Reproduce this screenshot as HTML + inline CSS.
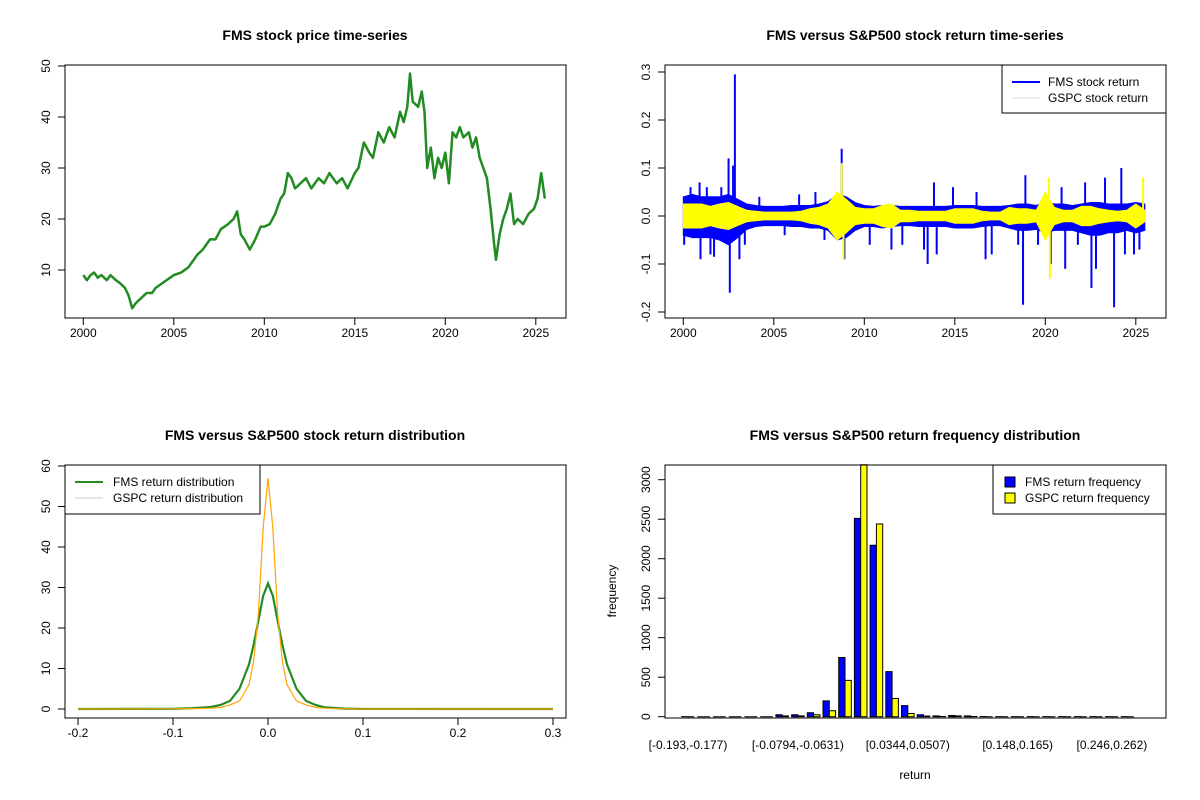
<!DOCTYPE html>
<html><head><meta charset="utf-8"><style>
body{margin:0;background:#fff}
svg{display:block;font-family:"Liberation Sans",Arial,sans-serif}
</style></head><body>
<svg id="c" width="1200" height="800" viewBox="0 0 1200 800" xmlns="http://www.w3.org/2000/svg">
<rect width="1200" height="800" fill="#fff"/>
<text x="315" y="40" text-anchor="middle" font-size="14" font-weight="bold">FMS stock price time-series</text>
<text x="915" y="40" text-anchor="middle" font-size="14" font-weight="bold">FMS versus S&amp;P500 stock return time-series</text>
<text x="315" y="440" text-anchor="middle" font-size="14" font-weight="bold">FMS versus S&amp;P500 stock return distribution</text>
<text x="915" y="440" text-anchor="middle" font-size="14" font-weight="bold">FMS versus S&amp;P500 return frequency distribution</text>
<g id="g1"></g>
<g id="g2"></g>
<g id="g3"></g>
<g id="g4"></g>
</svg>
<script>
// ---- Data ----
const priceYears=[2000,2000.2,2000.4,2000.6,2000.8,2001,2001.3,2001.5,2001.8,2002,2002.3,2002.5,2002.7,2002.9,2003.2,2003.5,2003.8,2004,2004.4,2004.8,2005,2005.4,2005.8,2006,2006.3,2006.6,2007,2007.3,2007.6,2008,2008.3,2008.5,2008.7,2008.9,2009.2,2009.5,2009.8,2010,2010.3,2010.6,2010.9,2011.1,2011.3,2011.5,2011.7,2012,2012.3,2012.6,2013,2013.3,2013.6,2014,2014.3,2014.6,2015,2015.2,2015.5,2015.8,2016,2016.3,2016.6,2016.9,2017.2,2017.5,2017.7,2017.9,2018.05,2018.2,2018.5,2018.7,2018.85,2019,2019.2,2019.4,2019.6,2019.8,2020,2020.2,2020.4,2020.6,2020.8,2021,2021.3,2021.5,2021.7,2021.9,2022.1,2022.3,2022.5,2022.7,2022.8,2023,2023.2,2023.4,2023.6,2023.8,2024,2024.3,2024.6,2024.9,2025.1,2025.3,2025.5];
const priceVals=[9,8,9,9.5,8.5,9,8,9,8,7.5,6.5,5,2.5,3.5,4.5,5.5,5.5,6.5,7.5,8.5,9,9.5,10.5,11.5,13,14,16,16,18,19,20,21.5,17,16,14,16,18.5,18.5,19,21,24,25,29,28,26,27,28,26,28,27,29,27,28,26,29,30,35,33,32,37,35,38,36,41,39,42,48.5,43,42,45,41,30,34,28,32,30,33,27,37,36,38,36,37,34,36,32,30,28,22,15,12,17,20,22,25,19,20,19,21,22,24,29,24];
const retYears=[2000,2000.5,2001,2001.5,2002,2002.5,2003,2003.5,2004,2004.5,2005,2005.5,2006,2006.5,2007,2007.5,2008,2008.5,2009,2009.5,2010,2010.5,2011,2011.5,2012,2012.5,2013,2013.5,2014,2014.5,2015,2015.5,2016,2016.5,2017,2017.5,2018,2018.5,2019,2019.5,2020,2020.5,2021,2021.5,2022,2022.5,2023,2023.5,2024,2024.5,2025,2025.5];
const fmsHi=[0.04,0.045,0.04,0.04,0.04,0.045,0.035,0.025,0.022,0.02,0.02,0.02,0.022,0.022,0.022,0.025,0.03,0.045,0.04,0.028,0.022,0.02,0.022,0.022,0.02,0.02,0.02,0.02,0.02,0.02,0.022,0.022,0.022,0.02,0.02,0.02,0.022,0.025,0.025,0.022,0.03,0.025,0.025,0.022,0.025,0.028,0.028,0.025,0.025,0.025,0.028,0.025];
const fmsLo=[-0.04,-0.045,-0.045,-0.045,-0.05,-0.06,-0.045,-0.028,-0.022,-0.02,-0.02,-0.02,-0.022,-0.022,-0.025,-0.025,-0.03,-0.05,-0.045,-0.03,-0.022,-0.022,-0.025,-0.022,-0.02,-0.02,-0.022,-0.022,-0.022,-0.022,-0.025,-0.025,-0.025,-0.022,-0.02,-0.02,-0.025,-0.03,-0.03,-0.028,-0.035,-0.03,-0.03,-0.03,-0.035,-0.04,-0.04,-0.035,-0.035,-0.03,-0.035,-0.03];
const gspcHi=[0.025,0.025,0.025,0.02,0.025,0.028,0.02,0.012,0.01,0.008,0.008,0.008,0.008,0.01,0.015,0.018,0.025,0.05,0.035,0.018,0.015,0.015,0.022,0.025,0.012,0.012,0.01,0.01,0.01,0.01,0.015,0.015,0.015,0.01,0.008,0.008,0.018,0.015,0.015,0.012,0.05,0.018,0.012,0.012,0.02,0.02,0.015,0.012,0.01,0.012,0.025,0.012];
const gspcLo=gspcHi.map(v=>-v);
const fmsSpikeYears=[2000.05,2000.4,2000.9,2000.95,2001.3,2001.5,2001.7,2002.1,2002.5,2002.57,2002.75,2002.85,2003.1,2003.4,2004.2,2005.6,2006.4,2007.3,2007.8,2008.75,2008.9,2010.3,2011.5,2012.1,2013.3,2013.5,2013.85,2014.0,2014.9,2016.2,2016.7,2017.04,2018.5,2018.77,2018.9,2019.6,2020.3,2020.9,2021.1,2021.8,2022.2,2022.55,2022.8,2023.3,2023.8,2024.2,2024.4,2024.9,2025.2];
const fmsSpikeVals=[-0.06,0.06,0.07,-0.09,0.06,-0.08,-0.085,0.06,0.12,-0.16,0.105,0.295,-0.09,-0.06,0.04,-0.04,0.045,0.05,-0.05,0.14,-0.09,-0.06,-0.07,-0.06,-0.07,-0.1,0.07,-0.08,0.06,0.05,-0.09,-0.08,-0.06,-0.185,0.085,-0.06,-0.1,0.06,-0.11,-0.06,0.07,-0.15,-0.11,0.08,-0.19,0.1,-0.08,-0.08,-0.07];
const gspcSpikeYears=[2008.75,2008.85,2020.2,2020.25,2025.4];
const gspcSpikeVals=[0.11,-0.09,0.08,-0.13,0.08];
const densX=[-0.2,-0.1,-0.08,-0.06,-0.05,-0.04,-0.03,-0.02,-0.015,-0.01,-0.005,0,0.005,0.01,0.015,0.02,0.03,0.04,0.05,0.06,0.08,0.1,0.3];
const densFMS=[0,0.05,0.2,0.5,1,2,5,11,16,22,28,31,28,22,16,11,5,2,1,0.4,0.1,0.02,0];
const densGSPC=[0,0.05,0.1,0.2,0.4,1,2,6,12,24,45,57,45,24,12,6,2,1,0.4,0.2,0.05,0,0];
const binLabels=["[-0.193,-0.177)","[-0.0794,-0.0631)","[0.0344,0.0507)","[0.148,0.165)","[0.246,0.262)"];
const binLabelIdx=[0,7,14,21,27];
const fmsFreq=[1,0,0,0,0,0,25,25,50,200,750,2510,2170,570,140,25,10,15,10,2,1,1,1,1,1,1,1,1,1];
const gspcFreq=[0,0,0,0,0,0,10,10,25,75,460,3250,2440,230,40,8,3,10,3,0,0,0,0,0,0,0,0,0,0];
const yearTicks=[2000,2005,2010,2015,2020,2025];
const priceTicks=[10,20,30,40,50];
const retTicks=[-0.2,-0.1,0,0.1,0.2,0.3];
const densXTicks=[-0.2,-0.1,0,0.1,0.2,0.3];
const densYTicks=[0,10,20,30,40,50,60];
const freqTicks=[0,500,1000,1500,2000,2500,3000];

const NS="http://www.w3.org/2000/svg";
function mk(parent,tag,attrs,txt){const e=document.createElementNS(NS,tag);for(const k in attrs)e.setAttribute(k,attrs[k]);if(txt!==undefined)e.textContent=txt;parent.appendChild(e);return e;}
function box(g,x0,y0,x1,y1){const r=mk(g,'rect',{x:x0,y:y0,width:x1-x0,height:y1-y0,fill:'none',stroke:'#000','stroke-width':1});

}
function xAxis(g,ticks,fx,y,fmt){mk(g,'line',{x1:fx(ticks[0]),x2:fx(ticks[ticks.length-1]),y1:y,y2:y,stroke:'#000'});
ticks.forEach(t=>{mk(g,'line',{x1:fx(t),x2:fx(t),y1:y,y2:y+7,stroke:'#000'});
const tx=mk(g,'text',{x:fx(t),y:y+19,'text-anchor':'middle','font-size':12},fmt(t));

});}
function yAxis(g,ticks,fy,x,fmt){mk(g,'line',{x1:x,x2:x,y1:fy(ticks[0]),y2:fy(ticks[ticks.length-1]),stroke:'#000'});
ticks.forEach(t=>{mk(g,'line',{x1:x,x2:x-7,y1:fy(t),y2:fy(t),stroke:'#000'});
const tx=mk(g,'text',{x:fy(t),y:x-19,'text-anchor':'middle','font-size':12,transform:`translate(0 0)`},fmt(t));
tx.setAttribute('x',x-19);tx.setAttribute('y',fy(t));
tx.setAttribute('transform',`rotate(-90 ${x-19} ${fy(t)})`);
tx.setAttribute('dy','4');

});}
const fmtR=t=>(Math.round(t*10)/10).toFixed(1);

{const g=document.getElementById('g1');const fx=y=>83.3+(y-2000)*18.1, fy=v=>270-(v-10)*5.1;
const p=mk(g,'polyline',{points:priceYears.map((y,i)=>fx(y)+','+fy(priceVals[i])).join(' '),fill:'none',stroke:'#228B22','stroke-width':2.5,'stroke-linejoin':'round'});


box(g,65,65,566,318);xAxis(g,yearTicks,fx,318,t=>t);yAxis(g,priceTicks,fy,65,t=>t);}

{const g=document.getElementById('g2');const fx=y=>683.3+(y-2000)*18.1, fy=r=>216-r*480;
const band=(hi,lo,col,name)=>{const pts=retYears.map((y,i)=>fx(y)+','+fy(hi[i])).concat(retYears.slice().reverse().map((y,j)=>{const i=retYears.length-1-j;return fx(y)+','+fy(lo[i]);}));
const e=mk(g,'polygon',{points:pts.join(' '),fill:col,stroke:col,'stroke-width':1});

};
band(fmsHi,fmsLo,'#0000FF','fms-return-band');
fmsSpikeYears.forEach((y,i)=>{const l=mk(g,'line',{x1:fx(y),x2:fx(y),y1:fy(0),y2:fy(fmsSpikeVals[i]),stroke:'#0000FF','stroke-width':2});

});
band(gspcHi,gspcLo,'#FFFF00','gspc-return-band');
gspcSpikeYears.forEach((y,i)=>{const l=mk(g,'line',{x1:fx(y),x2:fx(y),y1:fy(0),y2:fy(gspcSpikeVals[i]),stroke:'#FFFF00','stroke-width':2});

});
box(g,665,65,1166,318);xAxis(g,yearTicks,fx,318,t=>t);yAxis(g,retTicks,fy,665,fmtR);
const lg=mk(g,'g',{});
mk(lg,'rect',{x:1002,y:65,width:164,height:48,fill:'#fff',stroke:'#000'});
mk(lg,'line',{x1:1012,x2:1040,y1:82,y2:82,stroke:'#0000FF','stroke-width':2});
mk(lg,'text',{x:1048,y:86,'font-size':12},'FMS stock return');
mk(lg,'line',{x1:1012,x2:1040,y1:98,y2:98,stroke:'#ddd','stroke-width':1});
mk(lg,'text',{x:1048,y:102,'font-size':12},'GSPC stock return');}

{const g=document.getElementById('g3');const fx=v=>268+v*950, fy=d=>709-d*4.05;
const a=mk(g,'polyline',{points:densX.map((x,i)=>fx(x)+','+fy(densFMS[i])).join(' '),fill:'none',stroke:'#228B22','stroke-width':2.2});


const b=mk(g,'polyline',{points:densX.map((x,i)=>fx(x)+','+fy(densGSPC[i])).join(' '),fill:'none',stroke:'#FFA500','stroke-width':1.2});


box(g,65,465,566,718);xAxis(g,densXTicks,fx,718,fmtR);yAxis(g,densYTicks,fy,65,t=>t);
const lg=mk(g,'g',{});
mk(lg,'rect',{x:65,y:465,width:195,height:49,fill:'#fff',stroke:'#000'});
mk(lg,'line',{x1:75,x2:103,y1:482,y2:482,stroke:'#228B22','stroke-width':2});
mk(lg,'text',{x:113,y:486,'font-size':12},'FMS return distribution');
mk(lg,'line',{x1:75,x2:103,y1:498,y2:498,stroke:'#ccc','stroke-width':1});
mk(lg,'text',{x:113,y:502,'font-size':12},'GSPC return distribution');}

{const g=document.getElementById('g4');const fy=f=>716.7-Math.min(f,3190)*0.079, cx=i=>688+i*15.7, w=6.3;
fmsFreq.forEach((f,i)=>{const x=cx(i)-w;const p=mk(g,'path',{d:`M${x},${fy(0)}V${fy(f)}H${x+w}V${fy(0)}Z`,fill:'#0000FF',stroke:'#000','stroke-width':1});

});
gspcFreq.forEach((f,i)=>{const x=cx(i);const p=mk(g,'path',{d:`M${x},${fy(0)}V${fy(f)}H${x+w}V${fy(0)}Z`,fill:'#FFFF00',stroke:'#000','stroke-width':1});

});
box(g,665,465,1166,718);
yAxis(g,freqTicks,f=>716.7-f*0.079,665,t=>t);
binLabelIdx.forEach((bi,j)=>{const t=mk(g,'text',{x:cx(bi),y:749,'text-anchor':'middle','font-size':12},binLabels[j]);

});
const xl=mk(g,'text',{x:915,y:779,'text-anchor':'middle','font-size':12},'return');


const yl=mk(g,'text',{x:616,y:591,'text-anchor':'middle','font-size':12,transform:'rotate(-90 616 591)'},'frequency');


const lg=mk(g,'g',{});
mk(lg,'rect',{x:993,y:465,width:173,height:49,fill:'#fff',stroke:'#000'});
mk(lg,'rect',{x:1005,y:477,width:10,height:10,fill:'#0000FF',stroke:'#000'});
mk(lg,'text',{x:1025,y:486,'font-size':12},'FMS return frequency');
mk(lg,'rect',{x:1005,y:493,width:10,height:10,fill:'#FFFF00',stroke:'#000'});
mk(lg,'text',{x:1025,y:502,'font-size':12},'GSPC return frequency');}
</script>
</body></html>
